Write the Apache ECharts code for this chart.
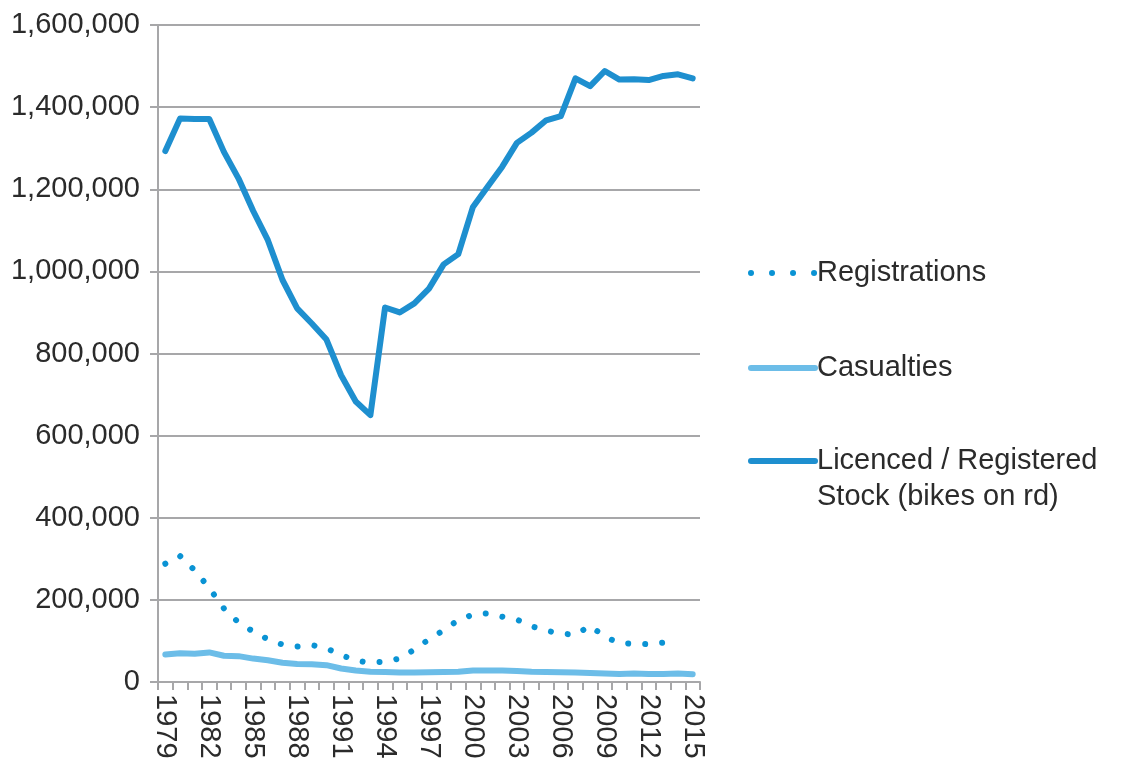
<!DOCTYPE html>
<html>
<head>
<meta charset="utf-8">
<script src="https://cdn.jsdelivr.net/npm/echarts@6/dist/echarts.min.js"></script>
<style>
    html, body {margin: 0; padding: 0; background: #fff;}
    #chart {width: 1121px; height: 766px;}
</style>
</head>
<body>
<div id="chart"></div>
<script>
"use strict";
var years = [];
for (var y = 1979; y <= 2015; y++) {
    years.push(String(y));
}

// Registrations (no point for 2015)
var registrations = [288000, 307000, 272000, 229000, 179000, 145000, 123000, 104000, 91000, 86500,
    90000, 82000, 66000, 52000, 47000, 50000, 57000, 79000, 104000, 126000,
    151000, 164000, 167000, 159000, 152000, 136000, 125000, 118000, 115000, 137000,
    110000, 95000, 93000, 92000, 96000, 100000, '-'];

var casualties = [67000, 70000, 69000, 72000, 64000, 63000, 57000, 53000, 47000, 44000,
    43000, 41000, 33000, 28000, 25000, 24500, 23000, 23000, 24000, 24500,
    25000, 28000, 28000, 28000, 27000, 25000, 24500, 23500, 23000, 22000,
    21000, 19500, 20500, 19500, 19500, 20500, 19000];

var stock = [1293000, 1372000, 1371000, 1371000, 1291000, 1226000, 1147000, 1076000, 979000, 910000,
    873000, 834000, 747000, 683000, 650000, 912000, 900000, 922000, 958000, 1017000,
    1042000, 1157000, 1206000, 1255000, 1313000, 1338000, 1368000, 1378000, 1470000, 1451000,
    1488000, 1467000, 1468000, 1466000, 1476000, 1480000, 1470000];

var yTicks = [0, 200000, 400000, 600000, 800000, 1000000, 1200000, 1400000, 1600000];

var fontFamily = "'Liberation Sans', Arial, sans-serif";
var gridColor = "#a7a7a9";
var textColor = "#2b2b2b";

var chart = echarts.init(document.getElementById("chart"));

function legendOption(name, top, dash, formatter) {
    return {
        show: true, orient: "vertical", left: 748, top: top, padding: 0,
        itemWidth: 64, itemHeight: 6, itemGap: 0,
        data: [name],
        formatter: formatter,
        itemStyle: {opacity: 0},
        lineStyle: {width: 6, cap: "round", type: dash},
        textStyle: {color: textColor, fontFamily: fontFamily, fontSize: 29, lineHeight: 36, padding: [0, 0, 0, -3]}
    };
}

var option = {
    animation: false,
    backgroundColor: "#fff",
    grid: {left: 158, right: 421, top: 25, bottom: 84, containLabel: false},
    legend: [
        legendOption("Registrations", 255, [0.01, 21]),
        legendOption("Casualties", 350, "solid"),
        legendOption("Licenced / Registered Stock (bikes on rd)", 407, "solid", function () {
            return "\nLicenced / Registered\nStock (bikes on rd)";
        })
    ],
    xAxis: {
        type: "category", boundaryGap: true, data: years,
        axisLine: {show: true, lineStyle: {color: gridColor, width: 2}},
        axisTick: {show: true, length: 8, interval: 0, lineStyle: {color: gridColor, width: 2}},
        axisLabel: {
            interval: 2, rotate: -90, margin: 12, color: textColor,
            fontFamily: fontFamily, fontSize: 29
        },
        splitLine: {show: false}
    },
    yAxis: {
        type: "value", min: 0, max: 1600000, interval: 200000,
        axisLine: {show: true, lineStyle: {color: gridColor, width: 2}},
        axisTick: {show: true, length: 8, lineStyle: {color: gridColor, width: 2}},
        axisLabel: {
            margin: 18, color: textColor, fontFamily: fontFamily, fontSize: 29,
            formatter: function (v) {
                return yTicks.indexOf(v) >= 0 ? v.toLocaleString("en-US") : "";
            }
        },
        splitLine: {show: true, lineStyle: {color: gridColor, width: 2}}
    },
    series: [
        {
            name: "Registrations", type: "line", data: registrations, symbol: "none", z: 3,
            itemStyle: {color: "#0a93d4"},
            lineStyle: {color: "#0a93d4", width: 6, type: [0.01, 17], cap: "round"}
        },
        {
            name: "Casualties", type: "line", data: casualties, symbol: "none", z: 2,
            itemStyle: {color: "#6cbde8"},
            lineStyle: {color: "#6cbde8", width: 6, cap: "round", join: "round"}
        },
        {
            name: "Licenced / Registered Stock (bikes on rd)", type: "line", data: stock, symbol: "none", z: 4,
            itemStyle: {color: "#1e8fcf"},
            lineStyle: {color: "#1e8fcf", width: 6, cap: "round", join: "round"}
        }
    ]
};
chart.setOption(option);
</script>
</body>
</html>
